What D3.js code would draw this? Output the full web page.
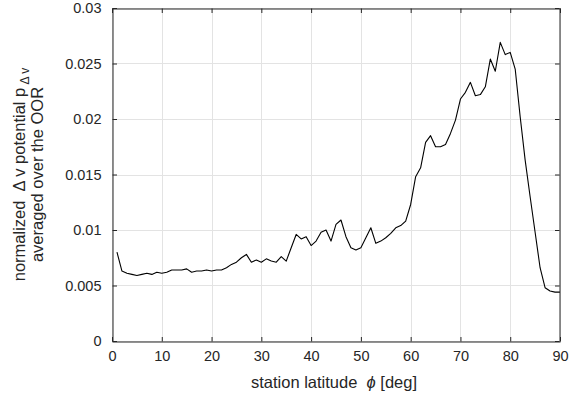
<!DOCTYPE html>
<html>
<head>
<meta charset="utf-8">
<script src="https://cdn.jsdelivr.net/npm/d3@7"></script>
<style>
  html, body { margin: 0; padding: 0; background: #fff; }
  svg text { font-family: "Liberation Sans", Arial, Helvetica, sans-serif; fill: #262626; }
</style>
</head>
<body>
<svg id="chart" width="569" height="398"></svg>
<script>
// Station latitude (deg) and the normalized delta-v potential averaged over the OOR
const latitudes = d3.range(1, 91);
const potential = [
  0.0080, 0.0063, 0.0061, 0.0060, 0.0059, 0.0060, 0.0061, 0.0060, 0.0062, 0.0061,
  0.0062, 0.0064, 0.0064, 0.0064, 0.0065, 0.0062, 0.0063, 0.0063, 0.0064, 0.0063,
  0.0064, 0.0064, 0.0066, 0.0069, 0.0071, 0.0075, 0.0078, 0.0071, 0.0073, 0.0071,
  0.0074, 0.0072, 0.0071, 0.0076, 0.0072, 0.0084, 0.0096, 0.0092, 0.0094, 0.0086,
  0.0090, 0.0098, 0.0100, 0.0090, 0.0105, 0.0109, 0.0094, 0.0084, 0.0082, 0.0084,
  0.0093, 0.0102, 0.0088, 0.0090, 0.0093, 0.0097, 0.0102, 0.0104, 0.0108, 0.0123,
  0.0148, 0.0156, 0.0179, 0.0185, 0.0175, 0.0175, 0.0177, 0.0187, 0.0199, 0.0218,
  0.0224, 0.0233, 0.0221, 0.0222, 0.0229, 0.0254, 0.0243, 0.0269, 0.0258, 0.0260,
  0.0245, 0.0202, 0.0163, 0.0130, 0.0098, 0.0066, 0.0048, 0.0045, 0.0044, 0.0044
];
const xTicks = [0, 10, 20, 30, 40, 50, 60, 70, 80, 90];
const yTicks = [0, 0.005, 0.01, 0.015, 0.02, 0.025, 0.03];

const svg = d3.select("#chart");
const plotLeft = 112, plotRight = 560, plotTop = 8, plotBottom = 341;
const axisColor = "#262626";
const gridColor = "#e3e3e3";
const tickFont = "14.5px";
const titleFont = "16.5px";

const x = d3.scaleLinear().domain([0, 90]).range([plotLeft, plotRight]);
const y = d3.scaleLinear().domain([0, 0.03]).range([plotBottom, plotTop]);

// grid
const grid = svg.append("g");
grid.selectAll("line.gx").data(xTicks).join("line")
  .attr("x1", d => Math.round(x(d)) + 0.5).attr("x2", d => Math.round(x(d)) + 0.5)
  .attr("y1", plotTop).attr("y2", plotBottom)
  .attr("stroke", gridColor).attr("stroke-width", 1);
grid.selectAll("line.gy").data(yTicks).join("line")
  .attr("x1", plotLeft).attr("x2", plotRight)
  .attr("y1", d => Math.round(y(d)) + 0.5).attr("y2", d => Math.round(y(d)) + 0.5)
  .attr("stroke", gridColor).attr("stroke-width", 1);

// data line
const line = d3.line().x((d, i) => x(latitudes[i])).y(d => y(d));
svg.append("path").datum(potential)
  .attr("d", line)
  .attr("fill", "none").attr("stroke", "#000").attr("stroke-width", 1.1)
  .attr("stroke-linejoin", "round");

// axes with inward ticks, box on
const tickLen = 4.5;
const fmtY = d => d === 0 ? "0" : String(+d.toFixed(3));

const xAxis = svg.append("g").attr("transform", `translate(0,${plotBottom + 0.5})`)
  .call(d3.axisBottom(x).tickValues(xTicks).tickSizeInner(-tickLen).tickSizeOuter(0).tickPadding(9));
const xAxisTop = svg.append("g").attr("transform", `translate(0,${plotTop + 0.5})`)
  .call(d3.axisTop(x).tickValues(xTicks).tickSizeInner(-tickLen).tickSizeOuter(0).tickFormat(""));
const yAxis = svg.append("g").attr("transform", `translate(${plotLeft + 0.5},0)`)
  .call(d3.axisLeft(y).tickValues(yTicks).tickSizeInner(-tickLen).tickSizeOuter(0).tickPadding(11).tickFormat(fmtY));
const yAxisRight = svg.append("g").attr("transform", `translate(${plotRight - 0.5},0)`)
  .call(d3.axisRight(y).tickValues(yTicks).tickSizeInner(-tickLen).tickSizeOuter(0).tickFormat(""));

[xAxis, xAxisTop, yAxis, yAxisRight].forEach(g => {
  g.select(".domain").attr("stroke", axisColor);
  g.selectAll(".tick line").attr("stroke", axisColor);
  g.selectAll(".tick text").attr("fill", axisColor)
    .style("font-size", tickFont)
    .style("font-family", "'Liberation Sans', Arial, sans-serif");
});

// axis titles
svg.append("text")
  .attr("x", 334).attr("y", 388)
  .attr("text-anchor", "middle")
  .style("font-size", titleFont)
  .html('station latitude&#160;&#160;<tspan style="font-style:italic">ϕ</tspan> [deg]');

const yTitle = svg.append("g")
  .attr("transform", `translate(0,${(plotTop + plotBottom) / 2}) rotate(-90)`);
yTitle.append("text")
  .attr("x", 0).attr("y", 25)
  .attr("text-anchor", "middle")
  .style("font-size", titleFont)
  .html('normalized&#160;&#160;Δ v potential p<tspan dy="4" style="font-size:12px">&#160;Δ v</tspan>');
yTitle.append("text")
  .attr("x", 0).attr("y", 43)
  .attr("text-anchor", "middle")
  .style("font-size", titleFont)
  .text("averaged over the OOR");
</script>
</body>
</html>
